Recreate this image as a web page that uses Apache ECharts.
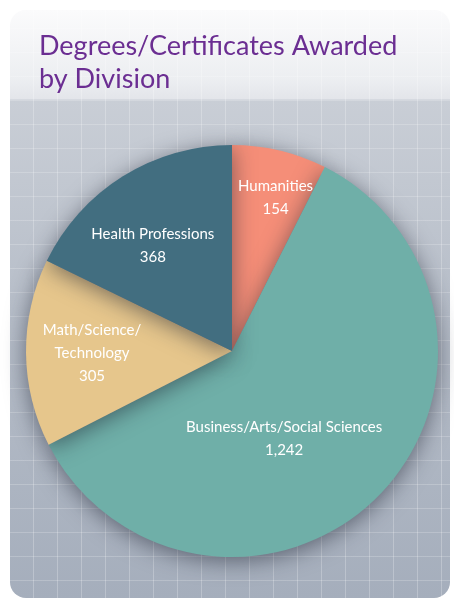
<!DOCTYPE html>
<html>
<head>
<meta charset="utf-8">
<script src="https://cdn.jsdelivr.net/npm/echarts@6/dist/echarts.min.js"></script>
<style>
  html, body { margin: 0; padding: 0; background: #fff; }
  #card {
    position: absolute; left: 10px; top: 10px; width: 440px; height: 588px;
    border-radius: 16px; overflow: hidden;
    background:
      repeating-linear-gradient(90deg, transparent 0 23px, rgba(255,255,255,0.24) 23px 24px),
      repeating-linear-gradient(180deg, transparent 0 18px, rgba(255,255,255,0.2) 18px 19px, transparent 19px 24px),
      linear-gradient(180deg, #fbfbfc 0px, #eceef1 70px, #e3e5ea 89px, #c9ced6 90px, #b7bec9 300px, #a5aebc 588px);
  }
  #chart { position: absolute; left: 0; top: 0; width: 454px; height: 602px; }
</style>
</head>
<body>
<div id="card"></div>
<div id="chart"></div>
<script>
// divisions, clockwise from 12 o'clock
const divisions = ['Humanities', 'Business/Arts/Social Sciences', 'Math/Science/\nTechnology', 'Health Professions']
const awards = [154, 1242, 305, 368]
const colors = ['#F58E78', '#6FAFA8', '#E6C68C', '#426E80']
// label nudges, px
const labelShift = [[19, -50], [-23, 13], [-34, 1], [-23, -15]]

const chart = echarts.init(document.getElementById('chart'), null, { renderer: 'canvas' })

const option = {
  backgroundColor: 'transparent',
  title: {
    text: 'Degrees/Certificates Awarded\nby Division',
    left: 34,
    top: 25,
    textStyle: {
      color: '#6B2E92',
      fontFamily: 'Lato',
      fontWeight: 'normal',
      fontSize: 27,
      lineHeight: 33
    }
  },
  series: [{
    type: 'pie',
    center: [232, 351],
    radius: 206,
    startAngle: 90,
    clockwise: true,
    silent: true,
    itemStyle: {
      shadowBlur: 22,
      shadowColor: 'rgba(30,35,50,0.55)',
      shadowOffsetY: 4
    },
    label: {
      position: 'inside',
      color: '#fff',
      fontFamily: 'Lato',
      fontSize: 15,
      lineHeight: 23,
      formatter: p => p.name + '\n' + p.value.toLocaleString('en-US')
    },
    labelLine: { show: false },
    data: divisions.map((name, i) => ({
      name,
      value: awards[i],
      itemStyle: { color: colors[i] },
      label: { offset: labelShift[i] }
    }))
  }]
}

chart.setOption(option)
</script>
</body>
</html>
